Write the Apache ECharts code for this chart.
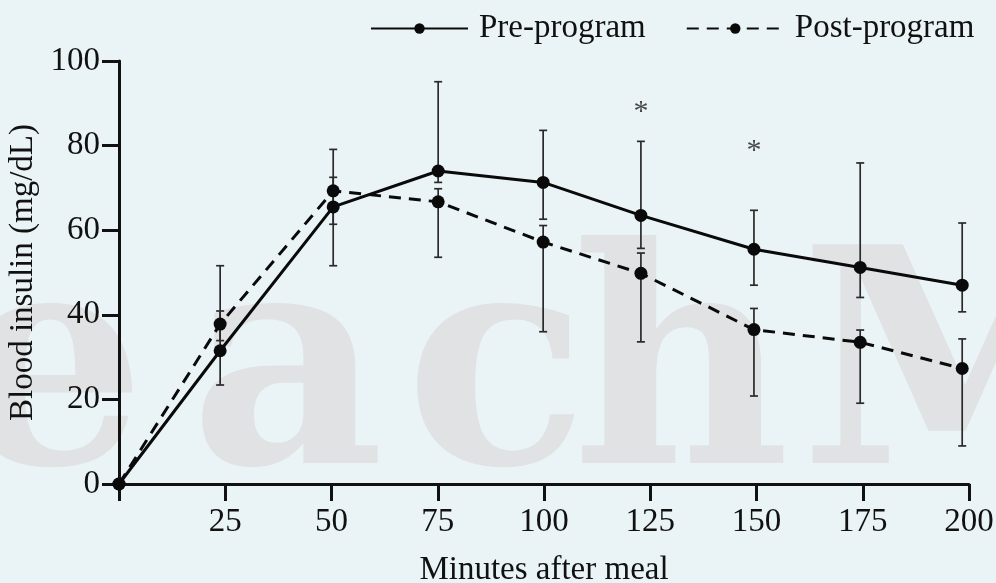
<!DOCTYPE html>
<html>
<head>
<meta charset="utf-8">
<script src="https://cdn.jsdelivr.net/npm/echarts@6/dist/echarts.min.js"></script>
<style>html,body{margin:0;padding:0;background:#eaf4f6;}#c{width:996px;height:583px;}</style>
</head>
<body>
<div id="c"></div>
<script>
// Data
var minutes = [0, 23.8, 50.4, 75.1, 99.8, 122.8, 149.4, 174.4, 198.4];
var pre = [0, 31.5, 65.5, 74.0, 71.3, 63.5, 55.5, 51.2, 47.0];
var post = [0, 37.8, 69.3, 66.7, 57.2, 49.8, 36.5, 33.5, 27.3];
var preLow = [null, 23.4, 51.6, 71.3, 62.6, 55.7, 47.0, 44.1, 40.7];
var preHigh = [null, 40.9, 79.1, 95.1, 83.6, 81.0, 64.7, 75.9, 61.7];
var postLow = [null, 33.9, 61.4, 53.6, 36.0, 33.6, 20.8, 19.1, 9.0];
var postHigh = [null, 51.6, 72.5, 69.8, 61.1, 54.6, 41.5, 36.4, 34.3];
var sigMinutes = [122.8, 149.4];
var sigY = [87.8, 78.8];
var xTicks = [25, 50, 75, 100, 125, 150, 175, 200];
var yTicks = [0, 20, 40, 60, 80, 100];
var seriesNames = ['Pre-program', 'Post-program'];

var FONT = '"Liberation Serif", "Times New Roman", serif';
var FS = 33;
var chart = echarts.init(document.getElementById('c'));

function pairs(xs, ys) { return xs.map(function (x, i) { return [x, ys[i]]; }); }
function errData(xs, lo, hi) {
  var out = [];
  xs.forEach(function (x, i) { if (lo[i] != null) out.push([x, lo[i], hi[i]]); });
  return out;
}
function errRender(params, api) {
  var x = api.value(0);
  var p1 = api.coord([x, api.value(1)]);
  var p2 = api.coord([x, api.value(2)]);
  var w = 4;
  var st = { stroke: '#2a2a2a', lineWidth: 1.7 };
  return {
    type: 'group',
    children: [
      { type: 'line', shape: { x1: p1[0], y1: p1[1], x2: p2[0], y2: p2[1] }, style: st },
      { type: 'line', shape: { x1: p1[0] - w, y1: p1[1], x2: p1[0] + w, y2: p1[1] }, style: st },
      { type: 'line', shape: { x1: p2[0] - w, y1: p2[1], x2: p2[0] + w, y2: p2[1] }, style: st }
    ]
  };
}

// faint background watermark letters (decoration)
function wm(ch, x) {
  return { type: 'text', x: x, y: 385, z: -10, silent: true,
    style: { text: ch, fill: '#e0e2e3', font: 'bold 300px "DejaVu Serif", serif', verticalAlign: 'middle' } };
}

chart.setOption({
  backgroundColor: '#eaf4f6',
  animation: false,
  graphic: [wm('e', -45), wm('a', 190), wm('c', 405), wm('h', 572), wm('M', 800)],
  legend: {
    data: seriesNames,
    left: 370,
    top: 12,
    padding: 0,
    itemWidth: 97,
    itemHeight: 13,
    itemGap: 40,
    textStyle: { fontFamily: FONT, fontSize: FS, color: '#111', padding: [0, 0, 0, 6] }
  },
  grid: { left: 119, right: 27, top: 61, bottom: 99, outerBoundsMode: 'none', containLabel: false },
  xAxis: {
    type: 'value', min: 0, max: 200, interval: 25,
    name: 'Minutes after meal', nameLocation: 'middle', nameGap: 70,
    nameTextStyle: { fontFamily: FONT, fontSize: FS, color: '#111' },
    axisLine: { lineStyle: { color: '#111', width: 3 } },
    axisTick: { length: 17, lineStyle: { color: '#111', width: 3 } },
    axisLabel: { margin: 22, fontFamily: FONT, fontSize: FS, color: '#111',
      formatter: function (v) { return xTicks.indexOf(v) >= 0 ? String(v) : ''; } },
    splitLine: { show: false }
  },
  yAxis: {
    type: 'value', min: 0, max: 100, interval: 20,
    name: 'Blood insulin (mg/dL)', nameLocation: 'middle', nameGap: 75, nameRotate: 90,
    nameTextStyle: { fontFamily: FONT, fontSize: FS, color: '#111' },
    axisLine: { show: true, lineStyle: { color: '#111', width: 3 } },
    axisTick: { show: true, length: 17, lineStyle: { color: '#111', width: 3 } },
    axisLabel: { margin: 19, fontFamily: FONT, fontSize: FS, color: '#111',
      formatter: function (v) { return yTicks.indexOf(v) >= 0 ? String(v) : ''; } },
    splitLine: { show: false }
  },
  series: [
    { type: 'custom', name: 'preErr', renderItem: errRender, data: errData(minutes, preLow, preHigh), z: 1, silent: true },
    { type: 'custom', name: 'postErr', renderItem: errRender, data: errData(minutes, postLow, postHigh), z: 1, silent: true },
    {
      type: 'line', name: seriesNames[0], data: pairs(minutes, pre), z: 3,
      symbol: 'circle', symbolSize: 13, showAllSymbol: true,
      itemStyle: { color: '#0a0a0a' },
      lineStyle: { color: '#0a0a0a', width: 3, type: 'solid' }
    },
    {
      type: 'line', name: seriesNames[1], data: pairs(minutes, post), z: 3,
      symbol: 'circle', symbolSize: 13, showAllSymbol: true,
      itemStyle: { color: '#0a0a0a' },
      lineStyle: { color: '#0a0a0a', width: 3, type: [12, 8] }
    },
    {
      type: 'scatter', name: 'sig', data: pairs(sigMinutes, sigY), symbolSize: 0, z: 4, silent: true,
      label: { show: true, position: 'inside', formatter: '*', fontFamily: FONT, fontSize: 30, color: '#1a1a1a' }
    }
  ]
});
</script>
</body>
</html>
